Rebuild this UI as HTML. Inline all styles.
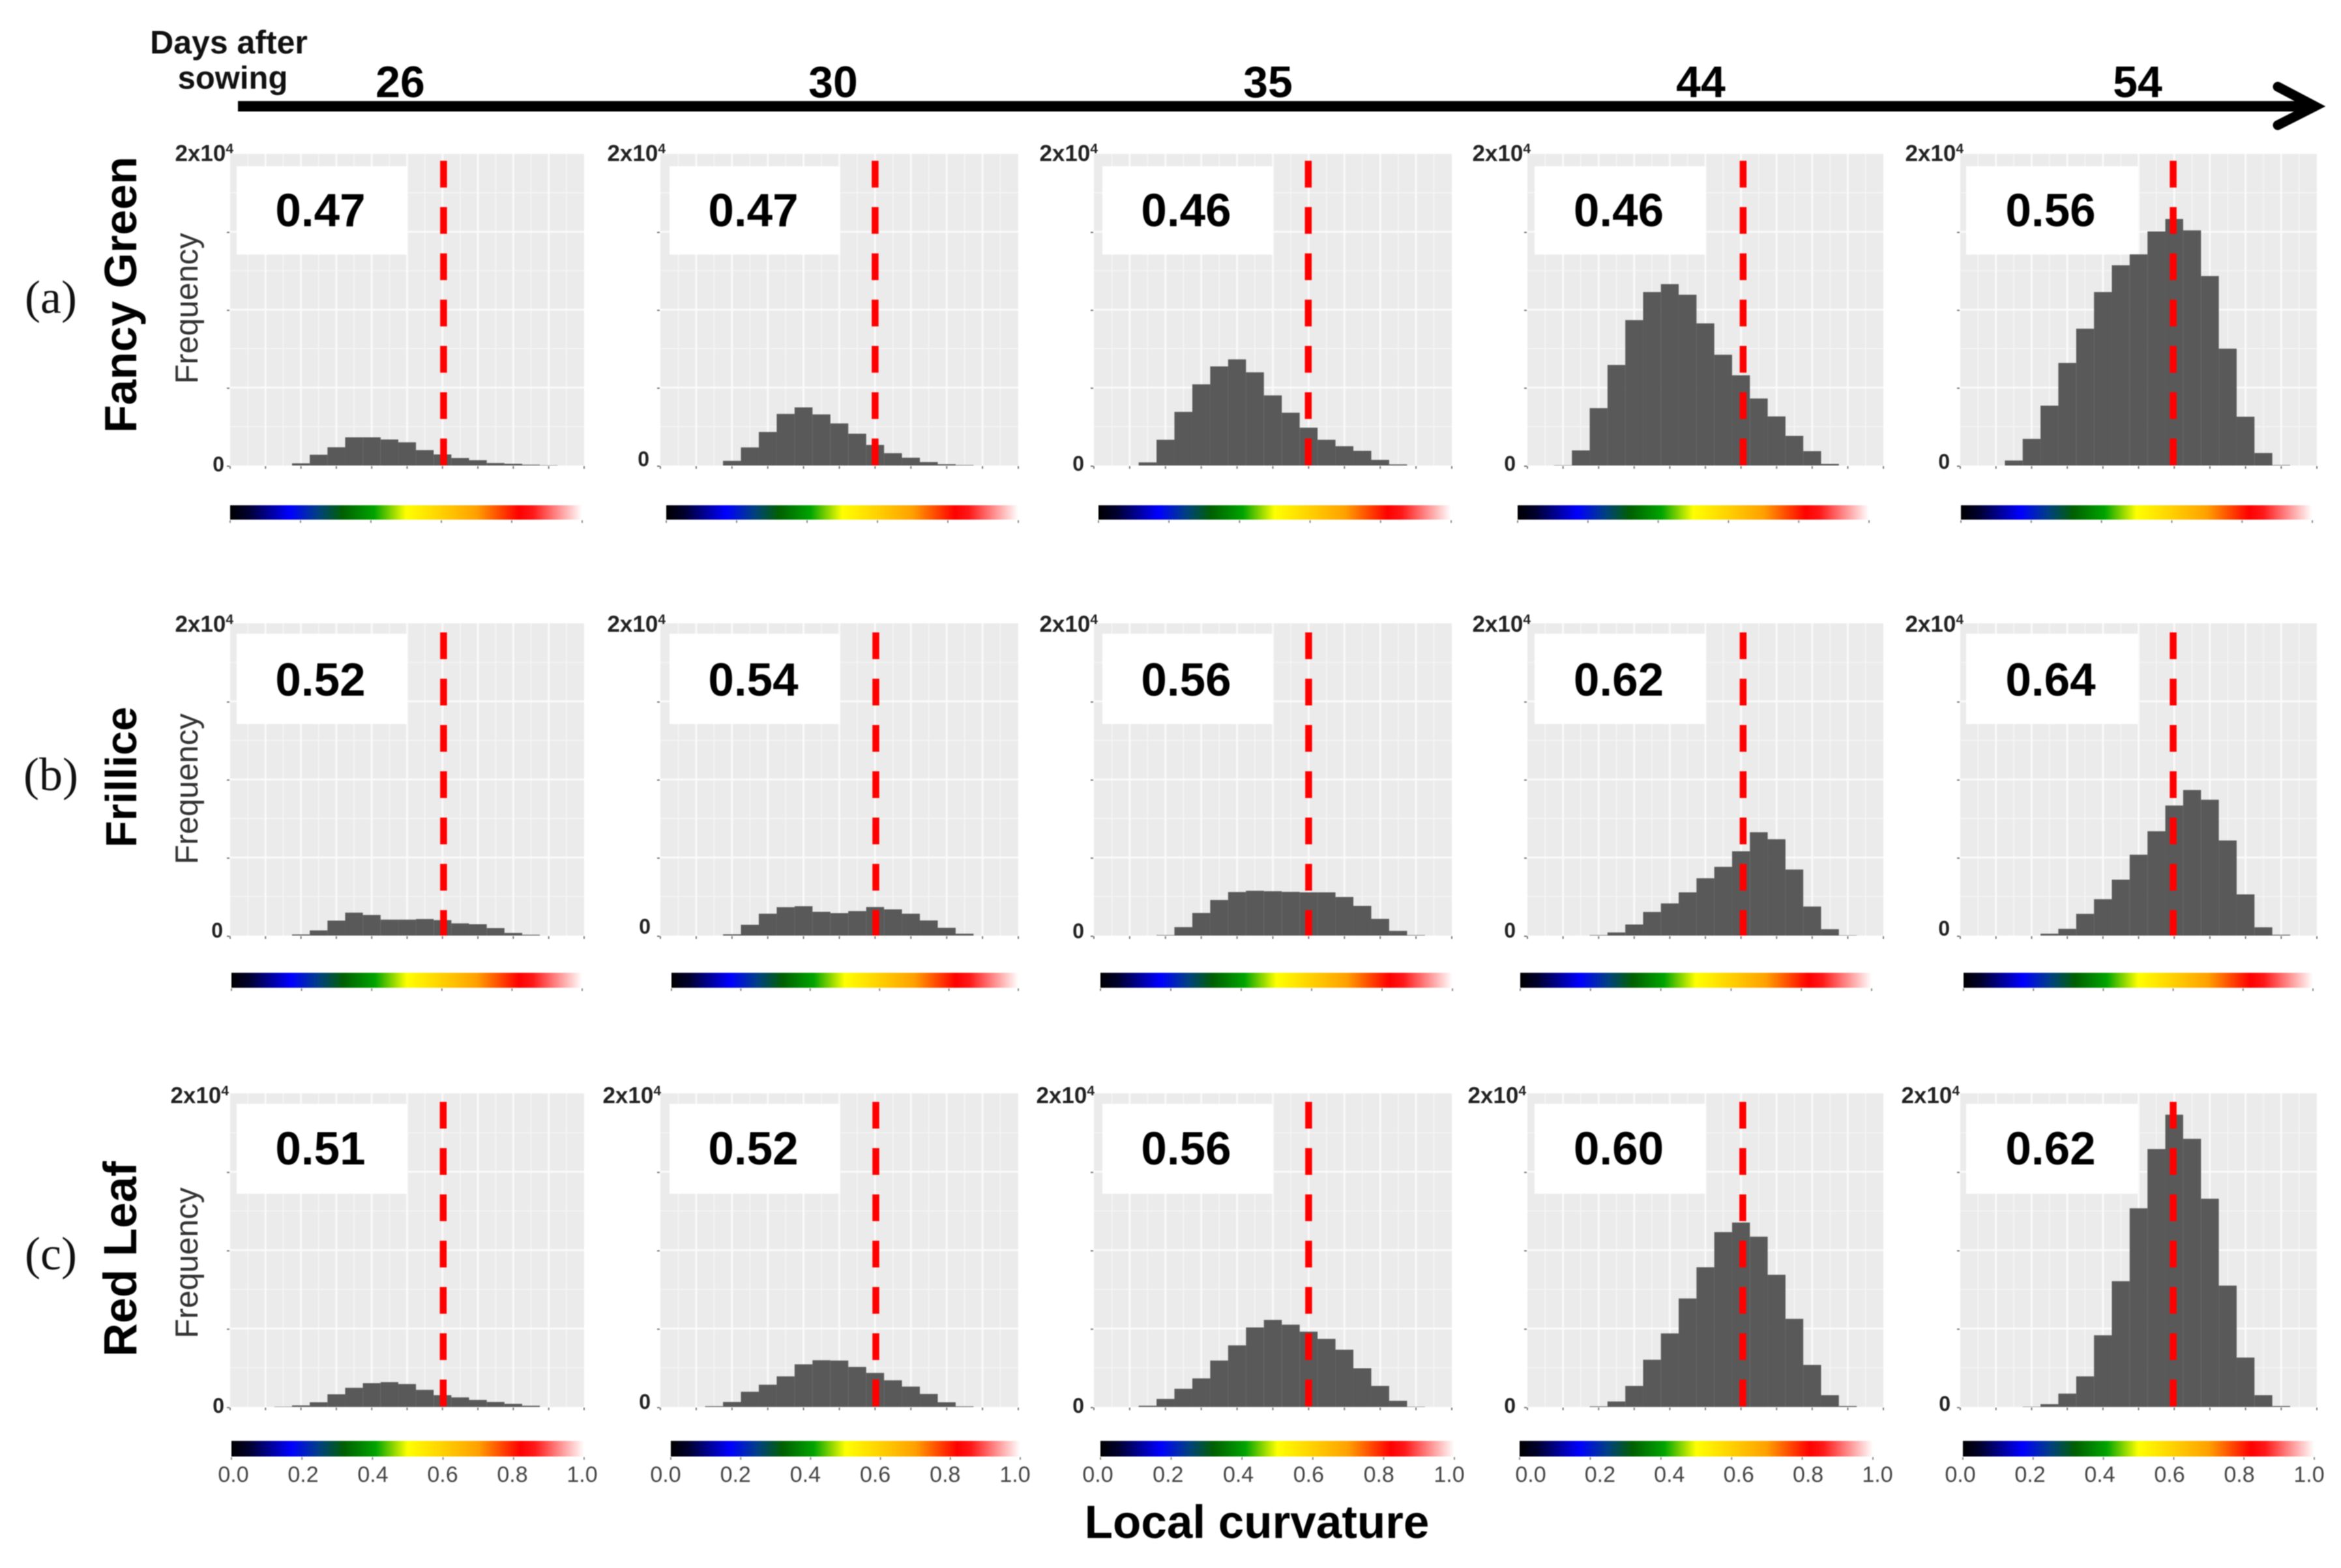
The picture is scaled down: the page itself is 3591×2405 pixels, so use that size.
<!DOCTYPE html>
<html lang="en">
<head>
<meta charset="utf-8">
<title>Local curvature histograms</title>
<style>
html,body{margin:0;padding:0;background:#fff;width:3591px;height:2405px;overflow:hidden}
svg{display:block;filter:blur(0.9px)}
text{font-family:"Liberation Sans",Arial,sans-serif}
</style>
</head>
<body>
<svg id="figure" xmlns="http://www.w3.org/2000/svg" width="3591" height="2405" viewBox="0 0 3591 2405">
  <defs>
    <linearGradient id="curvatureRamp" x1="0" x2="1" y1="0" y2="0">
      <stop offset="0" stop-color="#000000"/>
      <stop offset="0.05" stop-color="#00002c"/>
      <stop offset="0.17" stop-color="#0000ff"/>
      <stop offset="0.25" stop-color="#004080"/>
      <stop offset="0.32" stop-color="#006000"/>
      <stop offset="0.41" stop-color="#00a400"/>
      <stop offset="0.50" stop-color="#ffff00"/>
      <stop offset="0.60" stop-color="#ffd000"/>
      <stop offset="0.70" stop-color="#ffa000"/>
      <stop offset="0.82" stop-color="#ff0000"/>
      <stop offset="0.86" stop-color="#ff1818"/>
      <stop offset="1" stop-color="#ffffff"/>
    </linearGradient>
  </defs>
  <rect x="0" y="0" width="3591" height="2405" fill="#ffffff"/>

  <text x="351" y="82" font-size="50" font-weight="700" text-anchor="middle" fill="#111">Days after</text>
  <text x="357" y="136" font-size="49" font-weight="700" text-anchor="middle" fill="#111">sowing</text>

  <g>
    <line x1="365" y1="163" x2="3546" y2="163" stroke="#000" stroke-width="16"/>
    <polyline points="3494,133 3551,163 3494,192" fill="none" stroke="#000" stroke-width="15" stroke-linecap="round" stroke-linejoin="miter"/>
  </g>

  <text x="78" y="480" font-size="72" text-anchor="middle" fill="#111" style="font-family:'Liberation Serif',serif">(a)</text>
  <text x="78" y="1212" font-size="72" text-anchor="middle" fill="#111" style="font-family:'Liberation Serif',serif">(b)</text>
  <text x="78" y="1947" font-size="72" text-anchor="middle" fill="#111" style="font-family:'Liberation Serif',serif">(c)</text>

  <text x="1928" y="2359" font-size="71" font-weight="700" text-anchor="middle" fill="#000">Local curvature</text>
  <g id="panels"></g>
</svg>

<script>
// ---- Chart data: frequency per curvature bin ----
const binCenters = [0,0.05,0.1,0.15,0.2,0.25,0.3,0.35,0.4,0.45,0.5,0.55,0.6,0.65,0.7,0.75,0.8,0.85,0.9,0.95,1];
const days = [26,30,35,44,54];
const cultivars = ["Fancy Green","Frillice","Red Leaf"];

const fancyGreen26 = [0,0,0,0,140,690,1170,1810,1810,1670,1490,990,710,480,340,160,110,50,20,0,0];
const fancyGreen30 = [0,0,0,0,300,1160,2150,3310,3730,3280,2700,2040,1320,790,500,220,80,30,0,0,0];
const fancyGreen35 = [0,0,0,200,1650,3440,5210,6360,6810,5980,4500,3390,2430,1650,1240,940,360,70,0,0,0];
const fancyGreen44 = [0,0,20,970,3680,6450,9330,11130,11640,10960,9120,7110,5790,4300,3150,1900,920,100,0,0,0];
const fancyGreen54 = [0,0,0,320,1710,3840,6580,8780,11130,12850,13550,15020,15820,15090,12160,7500,3130,800,30,0,0];

const frillice26 = [0,0,0,0,70,330,960,1470,1320,1020,1020,1060,990,780,730,480,170,50,0,0,0];
const frillice30 = [0,0,0,0,80,690,1400,1820,1880,1520,1440,1570,1830,1680,1400,970,500,120,0,0,0];
const frillice35 = [0,0,0,0,30,540,1450,2280,2790,2870,2840,2800,2770,2770,2470,1900,1070,300,30,0,0];
const frillice44 = [0,0,0,0,30,200,710,1510,2060,2770,3670,4400,5400,6620,6170,4230,1860,410,20,0,0];
const frillice54 = [0,0,0,0,0,120,430,1390,2330,3580,5180,6680,8330,9320,8700,6090,2640,530,50,0,0];

const redLeaf26 = [0,0,0,20,100,300,810,1220,1520,1580,1460,1090,750,610,450,320,200,80,0,0,0];
const redLeaf30 = [0,0,0,50,320,970,1420,1950,2720,2980,2960,2550,2170,1700,1300,830,300,40,0,0,0];
const redLeaf35 = [0,0,0,80,510,1160,1820,2960,3930,5070,5550,5250,4800,4340,3650,2470,1340,390,20,0,0];
const redLeaf44 = [0,0,0,0,40,350,1340,3010,4690,6920,8910,11150,11760,10860,8430,5620,2680,750,60,0,0];
const redLeaf54 = [0,0,0,0,20,180,850,1950,4570,8020,12670,16450,18640,17100,13280,7740,3150,750,60,0,0];

const meanLabelsFancyGreen = ["0.47","0.47","0.46","0.46","0.56"];
const meanLabelsFrillice = ["0.52","0.54","0.56","0.62","0.64"];
const meanLabelsRedLeaf = ["0.51","0.52","0.56","0.60","0.62"];

const thresholdFancyGreen = [0.603,0.600,0.599,0.606,0.597];
const thresholdFrillice = [0.603,0.602,0.600,0.606,0.597];
const thresholdRedLeaf = [0.602,0.602,0.600,0.605,0.597];

const yMax = 20000;
const yMajorTicks = [0,5000,10000,15000,20000];
const yMinorTicks = [2500,7500,12500,17500];
const xMajorTicks = [0,0.1,0.2,0.3,0.4,0.5,0.6,0.7,0.8,0.9,1];
const xMinorTicks = [0.05,0.15,0.25,0.35,0.45,0.55,0.65,0.75,0.85,0.95];
const colorbarTickLabels = ["0.0","0.2","0.4","0.6","0.8","1.0"];
const colorbarTickValues = [0,0.2,0.4,0.6,0.8,1];

const seriesByRow = [
  [fancyGreen26,fancyGreen30,fancyGreen35,fancyGreen44,fancyGreen54],
  [frillice26,frillice30,frillice35,frillice44,frillice54],
  [redLeaf26,redLeaf30,redLeaf35,redLeaf44,redLeaf54]
];
const meanLabelsByRow = [meanLabelsFancyGreen,meanLabelsFrillice,meanLabelsRedLeaf];
const thresholdByRow = [thresholdFancyGreen,thresholdFrillice,thresholdRedLeaf];

// ---- Layout ----
const panelLeft = [353,1013,1678,2343,3007];
const panelRight = [896,1562,2227,2889,3554];
const rowTop = [236,956,1677];
const rowBottom = [714,1435,2158];
const boxLeft = [363,1027,1691,2354,3016];
const boxRight = [624,1288,1952,2616,3279];
const boxTop = [255,972,1693];
const boxBottom = [390.5,1110.5,1831];
const valueBaseline = [347,1067,1786];
const dashStart = [246.6,970,1690];
const barTop = [775,1492,2210];
const barBottom = [797,1515,2234];
const barLeft = [
  [353,1022,1685,2328,3008],
  [355,1030,1688,2332,3012],
  [355,1029,1688,2331,3011]
];
const barRight = [
  [893,1562,2226,2867,3547],
  [893,1562,2228,2871,3548],
  [896,1565,2231,2873,3550]
];
const tickLabelStart = [358,1021,1684,2348,3007];
const tickLabelEnd = [893,1557,2223,2880,3542];
const yMaxLabelRight = [
  [358,1021,1684,2348,3012],
  [358,1021,1684,2348,3012],
  [351,1014,1679,2341,3006]
];
const yMaxLabelBaseline = [247,969,1692];
const zeroRight = [
  [344,996,1663,2325,2991],
  [342,998,1663,2325,2991],
  [344,998,1663,2325,2992]
];
const zeroBaseline = [
  [723,715,722,722,719],
  [1438,1432,1439,1438,1435],
  [2167,2161,2167,2167,2164]
];
const sideTitleCenter = [452,1192,1931];
const sideTitleSize = [70,67,71];
const freqTitleCenter = [473,1210,1937];
const dayLabelCenter = [614,1278,1945,2609,3279];

const SVGNS = "http://www.w3.org/2000/svg";
const root = document.getElementById("panels");

function mk(tag, attrs, parent) {
  const n = document.createElementNS(SVGNS, tag);
  for (const k in attrs) n.setAttribute(k, attrs[k]);
  (parent || root).appendChild(n);
  return n;
}

let el;

days.forEach(function (d, c) {
  el = mk("text", {x: dayLabelCenter[c], y: 149, "font-size": 68, "font-weight": 700, "text-anchor": "middle", fill: "#000"});
  
  
  el.textContent = String(d);
});

cultivars.forEach(function (name, r) {
  el = mk("text", {transform: "translate(209 " + sideTitleCenter[r] + ") rotate(-90)", "font-size": sideTitleSize[r], "font-weight": 700, "text-anchor": "middle", fill: "#000"});
  
  
  el.textContent = name;

  el = mk("text", {transform: "translate(303 " + freqTitleCenter[r] + ") rotate(-90)", "font-size": 49, "text-anchor": "middle", fill: "#333333"});
  
  
  el.textContent = "Frequency";

  days.forEach(function (d, c) {
    drawPanel(r, c);
  });
});

function drawPanel(r, c) {
  const left = panelLeft[c], right = panelRight[c], top = rowTop[r], bottom = rowBottom[r];
  const xScale = function (v) { return left + v * (right - left); };
  const yScale = function (f) { return bottom - (f / yMax) * (bottom - top); };

  const g = mk("g", {});
  
  

  el = mk("rect", {x: left, y: top, width: right - left, height: bottom - top, fill: "#ebebeb"}, g);
  
  

  yMinorTicks.forEach(function (t) {
    el = mk("line", {x1: left, x2: right, y1: yScale(t), y2: yScale(t), stroke: "#f5f5f5", "stroke-width": 1.6}, g);
    
    
  });
  xMinorTicks.forEach(function (t) {
    el = mk("line", {x1: xScale(t), x2: xScale(t), y1: top, y2: bottom, stroke: "#f5f5f5", "stroke-width": 1.6}, g);
    
    
  });
  yMajorTicks.forEach(function (t) {
    if (t === 0 || t === yMax) return;
    el = mk("line", {x1: left, x2: right, y1: yScale(t), y2: yScale(t), stroke: "#fafafa", "stroke-width": 3}, g);
    
    
  });
  xMajorTicks.forEach(function (t) {
    if (t === 0 || t === 1) return;
    el = mk("line", {x1: xScale(t), x2: xScale(t), y1: top, y2: bottom, stroke: "#fafafa", "stroke-width": 3}, g);
    
    
  });

  el = mk("rect", {x: boxLeft[c], y: boxTop[r], width: boxRight[c] - boxLeft[c], height: boxBottom[r] - boxTop[r], fill: "#ffffff"}, g);
  
  

  el = mk("text", {x: (boxLeft[c] + boxRight[c]) / 2 - 2, y: valueBaseline[r], "font-size": 71, "font-weight": 700, "text-anchor": "middle", fill: "#000"}, g);
  
  
  el.textContent = meanLabelsByRow[r][c];

  const values = seriesByRow[r][c];
  const halfBin = (binCenters[1] - binCenters[0]) / 2;
  binCenters.forEach(function (center, i) {
    const f = values[i];
    if (!f) return;
    const x0 = xScale(center - halfBin), x1 = xScale(center + halfBin);
    el = mk("rect", {x: x0, y: yScale(f), width: x1 - x0, height: yScale(0) - yScale(f), fill: "#595959"}, g);
    
    
  });

  const tx = xScale(thresholdByRow[r][c]);
  el = mk("line", {x1: tx, x2: tx, y1: dashStart[r], y2: bottom, stroke: "#ff0000", "stroke-width": 10.5, "stroke-dasharray": "41 30"}, g);
  
  

  yMajorTicks.forEach(function (t) {
    if (t === yMax) return;
    el = mk("line", {x1: left - 5, x2: left - 1, y1: yScale(t) + 1, y2: yScale(t) + 1, stroke: "#777", "stroke-width": 2}, g);
    
    
  });
  xMajorTicks.forEach(function (t) {
    el = mk("line", {x1: xScale(t), x2: xScale(t), y1: bottom + 1, y2: bottom + 5, stroke: "#777", "stroke-width": 2}, g);
    
    
  });

  el = mk("text", {x: yMaxLabelRight[r][c], y: yMaxLabelBaseline[r], "font-size": 35, "font-weight": 700, "text-anchor": "end", fill: "#222"}, g);
  
  
  el.textContent = "2x10";
  const sup = document.createElementNS(SVGNS, "tspan");
  sup.setAttribute("font-size", 21);
  sup.setAttribute("dy", -12);
  sup.textContent = "4";
  el.appendChild(sup);

  el = mk("text", {x: zeroRight[r][c], y: zeroBaseline[r][c], "font-size": 32, "font-weight": 700, "text-anchor": "end", fill: "#222"}, g);
  
  
  el.textContent = "0";

  const bl = barLeft[r][c], br = barRight[r][c];
  el = mk("rect", {x: bl, y: barTop[r], width: br - bl, height: barBottom[r] - barTop[r], fill: "url(#curvatureRamp)"}, g);
  
  

  colorbarTickValues.forEach(function (t, i) {
    const cx = bl + t * (br - bl);
    el = mk("line", {x1: cx, x2: cx, y1: barBottom[r] + 1, y2: barBottom[r] + 5, stroke: "#888", "stroke-width": 2}, g);
    
    
    if (r === 2) {
      el = mk("text", {x: tickLabelStart[c] + t * (tickLabelEnd[c] - tickLabelStart[c]), y: 2273, "font-size": 34, "text-anchor": "middle", fill: "#444444"}, g);
      
      
      el.textContent = colorbarTickLabels[i];
    }
  });
}
</script>
</body>
</html>
